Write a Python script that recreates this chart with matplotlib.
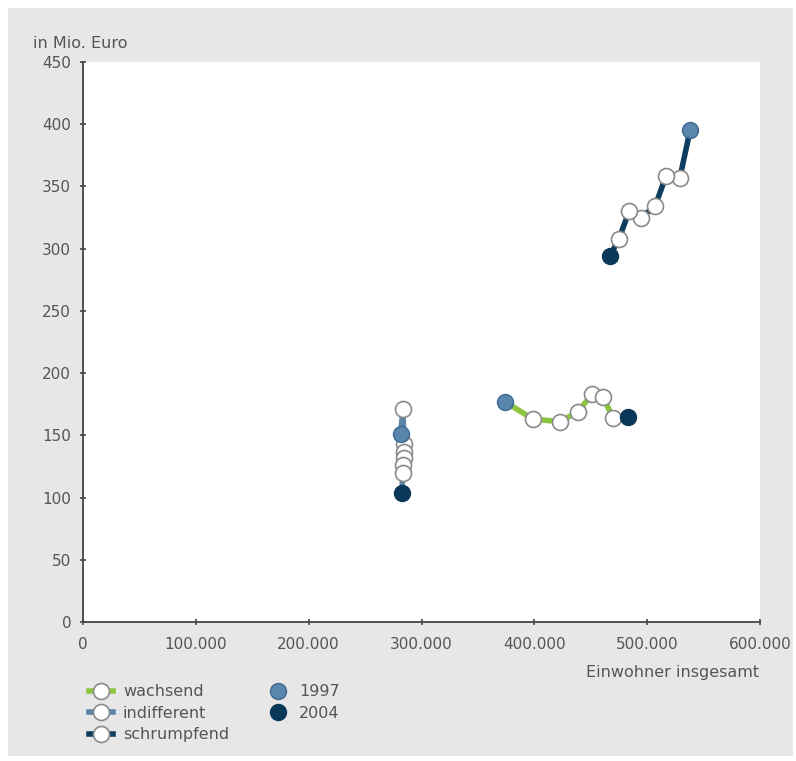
import matplotlib.pyplot as plt
from matplotlib.lines import Line2D
from matplotlib.patches import Rectangle
from matplotlib.ticker import FuncFormatter

plt.rcParams['font.family'] = ['DejaVu Sans']

# Verlauf 1997 -> 2004 (Einwohner, Mio. Euro)
wachsend_x = [374000, 398800, 422800, 438700, 451100, 460900, 469700, 483000]
wachsend_y = [177, 163, 161, 169, 183, 181, 164, 165]

indifferent_x = [281500, 283600, 284300, 284300, 284300, 283800, 283200, 282800]
indifferent_y = [151, 171, 143, 137, 132, 126, 120, 104]

schrumpfend_x = [538000, 529000, 516500, 507000, 494500, 484000, 475000, 467000]
schrumpfend_y = [395, 357, 358, 334, 325, 330, 308, 294]

serien = [
    ('wachsend', wachsend_x, wachsend_y, '#8cc63f'),
    ('indifferent', indifferent_x, indifferent_y, '#5b84a8'),
    ('schrumpfend', schrumpfend_x, schrumpfend_y, '#0f3d60'),
]

farbe_1997 = '#5a86ad'
farbe_2004 = '#0a3858'
kreis_rand = '#8a8a8a'
text_farbe = '#555555'
schrift = 11.5
ms = 11.5

fig = plt.figure(figsize=(7.96, 7.61), dpi=100, facecolor='white')
hintergrund = Rectangle((8 / 796, 5 / 761), 785 / 796, 748 / 761,
                        transform=fig.transFigure, facecolor='#e7e7e7',
                        edgecolor='none', zorder=-10)
fig.add_artist(hintergrund)

ax = fig.add_axes([83 / 796, 139 / 761, 677 / 796, 560 / 761])
ax.set_zorder(1)
ax.set_facecolor('white')

for name, xs, ys, farbe in serien:
    ax.plot(xs, ys, color=farbe, lw=4, solid_capstyle='round', zorder=2)
    ax.plot(xs[1:-1], ys[1:-1], 'o', ms=ms, mfc='white', mec=kreis_rand,
            mew=1.2, ls='none', zorder=3)
    ax.plot(xs[0], ys[0], 'o', ms=ms, mfc=farbe_1997, mec='#3d6a90',
            mew=1.0, zorder=4)
    ax.plot(xs[-1], ys[-1], 'o', ms=ms, mfc=farbe_2004, mec=farbe_2004,
            mew=1.0, zorder=4)

ax.set_xlim(0, 600000)
ax.set_ylim(0, 450)
ax.set_xticks(range(0, 600001, 100000))
ax.set_yticks(range(0, 451, 50))
ax.xaxis.set_major_formatter(FuncFormatter(lambda v, p: f'{int(v):,}'.replace(',', '.')))

for s in ['top', 'right']:
    ax.spines[s].set_visible(False)
for s in ['left', 'bottom']:
    ax.spines[s].set_color('#444444')
    ax.spines[s].set_linewidth(1.3)
ax.tick_params(axis='both', colors='#444444', labelcolor=text_farbe,
               labelsize=11, width=1.2, length=5, direction='inout')
ax.tick_params(axis='x', pad=8)
ax.tick_params(axis='y', pad=6)

fig.text(33 / 796, 1 - 44 / 761, 'in Mio. Euro', fontsize=schrift,
         color=text_farbe, va='center', ha='left')
fig.text(759 / 796, 1 - 673 / 761, 'Einwohner insgesamt', fontsize=schrift,
         color=text_farbe, va='center', ha='right')

handles = []
for name, xs, ys, farbe in serien:
    handles.append(Line2D([], [], color=farbe, lw=4, marker='o', ms=ms,
                          mfc='white', mec=kreis_rand, mew=1.2))
handles.append(Line2D([], [], ls='none', marker='o', ms=ms,
                      mfc=farbe_1997, mec='#3d6a90'))
handles.append(Line2D([], [], ls='none', marker='o', ms=ms,
                      mfc=farbe_2004, mec=farbe_2004))
labels = ['wachsend', 'indifferent', 'schrumpfend', '1997', '2004']

fig.legend(handles, labels, ncol=2, loc='upper left',
           bbox_to_anchor=(75 / 796, 1 - 670 / 761), frameon=False,
           fontsize=schrift, labelcolor=text_farbe, handlelength=1.5,
           handletextpad=0.6, labelspacing=0.4, columnspacing=2.3)

fig.savefig('out.png', dpi=100, facecolor=fig.get_facecolor())
